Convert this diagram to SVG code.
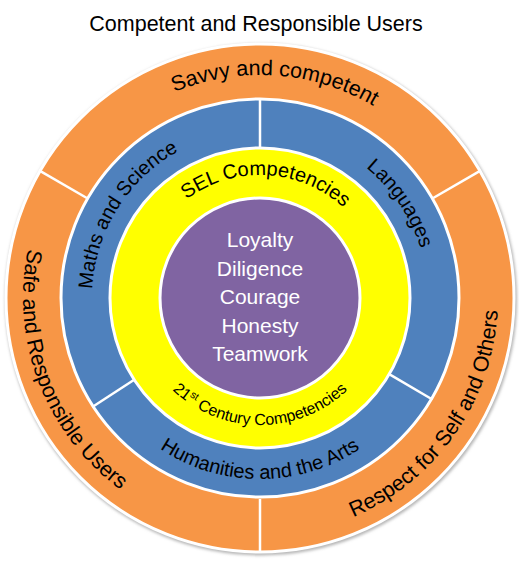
<svg xmlns="http://www.w3.org/2000/svg" width="519" height="563" viewBox="0 0 519 563">
  <defs>
    <style>
      text { font-family: "Liberation Sans", Arial, sans-serif; fill: #000; }
      .title { font-size: 21.5px; }
      .outer { font-size: 21.5px; }
      .mid { font-size: 20px; }
      .sel { font-size: 20px; }
      .small { font-size: 16px; }
      .core { font-size: 21px; fill: #fff; text-anchor: middle; }
      .ring { stroke: #fff; stroke-width: 3; }
      .div { stroke: #fff; stroke-width: 2.5; stroke-linecap: butt; }
    </style>
    <filter id="soft" x="-10%" y="-10%" width="120%" height="120%">
      <feGaussianBlur stdDeviation="1.6"/>
    </filter>
    <!-- baselines for the curved labels, each centred on its label's mid angle -->
    <path id="p-savvy" d="M 43.62 244.05 A 223 223 0 0 1 481.78 274.69" fill="none"/>
    <path id="p-safe" d="M 137.94 94.85 A 237 237 0 0 0 305.22 530.65" fill="none"/>
    <path id="p-respect" d="M 159.42 513.7 A 238 238 0 0 0 428.29 129.71" fill="none"/>
    <path id="p-maths" d="M 147.59 422.85 A 168 168 0 0 1 322.93 142.23" fill="none"/>
    <path id="p-lang" d="M 191.67 144.52 A 168 168 0 0 1 376.7 418.85" fill="none"/>
    <path id="p-hum" d="M 81.75 329.43 A 181 181 0 0 0 438.25 329.43" fill="none"/>
    <path id="p-sel" d="M 140.15 270.33 A 123 123 0 0 1 382.08 283.01" fill="none"/>
    <path id="p-21" d="M 134.93 320.05 A 127 127 0 0 0 385.07 320.05" fill="none"/>
  </defs>

  <rect width="519" height="563" fill="#fff"/>

  <g id="title">
    <text class="title" x="256" y="30.5" text-anchor="middle">Competent and Responsible Users</text>
  </g>

  <!-- outer ring: attitudes -->
  <g id="outer-ring">
    <circle cx="261" cy="299.5" r="256" fill="#b5b5b5" filter="url(#soft)"/>
    <circle class="ring" cx="260" cy="298" r="254" fill="#F79646"/>
    <text class="outer"><textPath href="#p-savvy" startOffset="50%" text-anchor="middle">Savvy and competent</textPath></text>
    <text class="outer"><textPath href="#p-safe" startOffset="50%" text-anchor="middle">Safe and Responsible Users</textPath></text>
    <text class="outer"><textPath href="#p-respect" startOffset="50%" text-anchor="middle">Respect for Self and Others</textPath></text>
  </g>

  <!-- subject ring -->
  <g id="subject-ring">
    <circle class="ring" cx="260" cy="298" r="199" fill="#4F81BD"/>
    <text class="mid"><textPath href="#p-maths" startOffset="50%" text-anchor="middle">Maths and Science</textPath></text>
    <text class="mid"><textPath href="#p-lang" startOffset="50%" text-anchor="middle">Languages</textPath></text>
    <text class="mid"><textPath href="#p-hum" startOffset="50%" text-anchor="middle">Humanities and the Arts</textPath></text>
  </g>

  <!-- competency ring -->
  <g id="competency-ring">
    <circle class="ring" cx="260" cy="298" r="150" fill="#FFFF00"/>
    <text class="sel"><textPath href="#p-sel" startOffset="50%" text-anchor="middle">SEL Competencies</textPath></text>
    <text class="small"><textPath href="#p-21" startOffset="50%" text-anchor="middle">21<tspan font-size="10.5" dy="-6">st</tspan><tspan dy="6"> Century Competencies</tspan></textPath></text>
  </g>

  <!-- core values -->
  <g id="core-values">
    <circle class="ring" cx="260" cy="298" r="100" fill="#8064A2"/>
    <text class="core" x="260" y="247">Loyalty</text>
    <text class="core" x="260" y="275.5">Diligence</text>
    <text class="core" x="260" y="304">Courage</text>
    <text class="core" x="260" y="332.5">Honesty</text>
    <text class="core" x="260" y="361">Teamwork</text>
  </g>

  <!-- segment dividers -->
  <g id="dividers">
    <line class="div" x1="260" y1="499" x2="260" y2="553"/>
    <line class="div" x1="86.8" y1="198" x2="39.5" y2="170.7"/>
    <line class="div" x1="433.2" y1="198" x2="480.5" y2="170.7"/>
    <line class="div" x1="260" y1="149" x2="260" y2="98"/>
    <line class="div" x1="134.2" y1="379.7" x2="92.3" y2="407"/>
    <line class="div" x1="389.2" y1="374.1" x2="432.4" y2="399.5"/>
  </g>
</svg>
